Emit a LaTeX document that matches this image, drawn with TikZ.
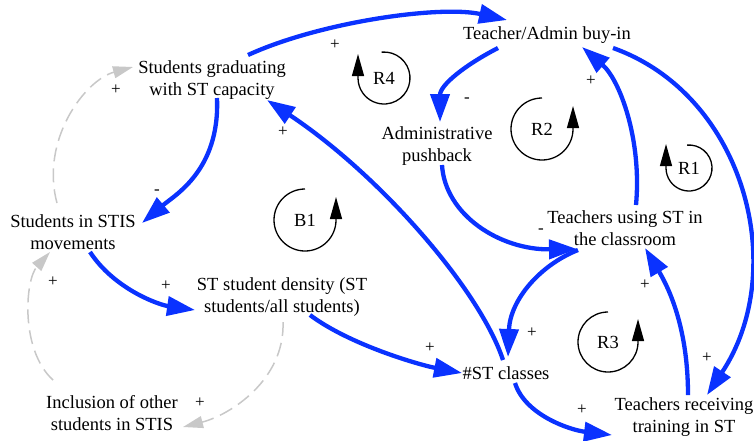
\documentclass[tikz,border=0pt]{standalone}
\usepackage{fontspec}
\setmainfont{Liberation Serif}
\usetikzlibrary{arrows.meta,calc}
\definecolor{linkblue}{RGB}{10,50,255}
\definecolor{linkgrey}{RGB}{200,200,200}
\begin{document}
\begin{tikzpicture}[x=1pt,y=-1pt,
  var/.style={align=center,inner sep=0pt,font=\fontsize{18.5}{22}\selectfont},
  pol/.style={inner sep=0pt,font=\fontsize{17}{19}\selectfont},
  loopname/.style={inner sep=0pt,font=\fontsize{18.5}{22}\selectfont},
  blink/.style={draw=linkblue,line width=4.3pt,-{Triangle[length=28pt,width=19pt]}},
  glink/.style={draw=linkgrey,line width=1.5pt,dash pattern=on 14pt off 7pt,-{Triangle[length=20pt,width=12pt]}},
  loopline/.style={draw=black,line width=1.3pt,-{Triangle[length=22pt,width=12pt]}},
]
\useasboundingbox (0,0) rectangle (754,440);

% variables
\node[var] (buy)   at (547,35)  {Teacher/Admin buy-in};
\node[var] (grad)  at (212,80)  {Students graduating\\with ST capacity};
\node[var] (push)  at (437,146) {Administrative\\pushback};
\node[var] (stis)  at (73,232)  {Students in STIS\\movements};
\node[var] (dens)  at (282,297) {ST student density (ST\\students/all students)};
\node[var] (using) at (625,228) {Teachers using ST in\\the classroom};
\node[var] (cls)   at (506,373) {\#ST classes};
\node[var] (train) at (684,417) {Teachers receiving\\training in ST};
\node[var] (incl)  at (112,413) {Inclusion of other\\students in STIS};

% blue links
\draw[blink] ($(grad)+(36,-25)$) .. controls (320,22) and (440,5) .. ($(buy)+(-40,-15)$);
\draw[blink] ($(buy)+(-49,13)$) .. controls (465,65) and (440,85) .. ($(push)+(3,-24)$);
\draw[blink] ($(push)+(5,19)$) .. controls (445,215) and (500,250) .. ($(using)+(-48,21)$);
\draw[blink] ($(using)+(11,-23)$) .. controls (642,140) and (620,80) .. ($(buy)+(35,12)$);
\draw[blink] ($(buy)+(66,13)$) .. controls (745,95) and (790,270) .. ($(train)+(23,-22)$);
\draw[blink] ($(using)+(-47,22)$) .. controls (540,265) and (510,300) .. ($(cls)+(2,-16)$);
\draw[blink] ($(cls)+(-3,-13)$) .. controls (480,290) and (380,175) .. ($(grad)+(55,20)$);
\draw[blink] ($(cls)+(9,10)$) .. controls (525,415) and (570,430) .. ($(train)+(-72,18)$);
\draw[blink] ($(train)+(4,-22)$) .. controls (688,330) and (670,290) .. ($(using)+(20,20)$);
\draw[blink] ($(grad)+(5,18)$) .. controls (220,170) and (175,195) .. ($(stis)+(69,-9)$);
\draw[blink] ($(stis)+(17,20)$) .. controls (115,290) and (160,305) .. ($(dens)+(-87,13)$);
\draw[blink] ($(dens)+(28,18)$) .. controls (350,345) and (420,365) .. ($(cls)+(-44,0)$);

% grey links
\draw[glink] ($(stis)+(-16,-29)$) .. controls (40,140) and (85,80) .. ($(grad)+(-79,-13)$);
\draw[glink] ($(incl)+(-59,-33)$) .. controls (20,350) and (25,280) .. ($(stis)+(-23,20)$);
\draw[glink] ($(dens)+(1,25)$) .. controls (285,380) and (230,415) .. ($(incl)+(71,14)$);

% polarities
\node[pol] (p1)  at (335,45)  {+};
\node[pol] (p2)  at (467,100) {-};
\node[pol] (p3)  at (541,231) {-};
\node[pol] (p4)  at (591,81)  {+};
\node[pol] (p5)  at (707,358) {+};
\node[pol] (p6)  at (532,333) {+};
\node[pol] (p7)  at (283,132) {+};
\node[pol] (p8)  at (582,410) {+};
\node[pol] (p9)  at (645,285) {+};
\node[pol] (p10) at (157,192) {-};
\node[pol] (p11) at (166,286) {+};
\node[pol] (p12) at (430,348) {+};
\node[pol] (p13) at (116,90)  {+};
\node[pol] (p14) at (53,282)  {+};
\node[pol] (p15) at (200,403) {+};

% loops
\node[loopname] (r4) at (384,78)  {R4};
\node[loopname] (r1) at (689,168) {R1};
\node[loopname] (r2) at (542,129) {R2};
\node[loopname] (b1) at (305,220) {B1};
\node[loopname] (r3) at (608,342) {R3};

\draw[loopline] ($(r4)+(-95:26)$) arc[start angle=-95,end angle=180,radius=26] -- ++(0,-24);
\draw[loopline] ($(r1)+(-95:23)$) arc[start angle=-95,end angle=180,radius=23] -- ++(0,-24);
\draw[loopline] ($(r2)+(-90:31)$) arc[start angle=-90,end angle=-360,radius=31] -- ++(0,-23);
\draw[loopline] ($(b1)+(-90:31)$) arc[start angle=-90,end angle=-360,radius=31] -- ++(0,-23);
\draw[loopline] ($(r3)+(-90:30)$) arc[start angle=-90,end angle=-360,radius=30] -- ++(0,-23);
\end{tikzpicture}
\end{document}
